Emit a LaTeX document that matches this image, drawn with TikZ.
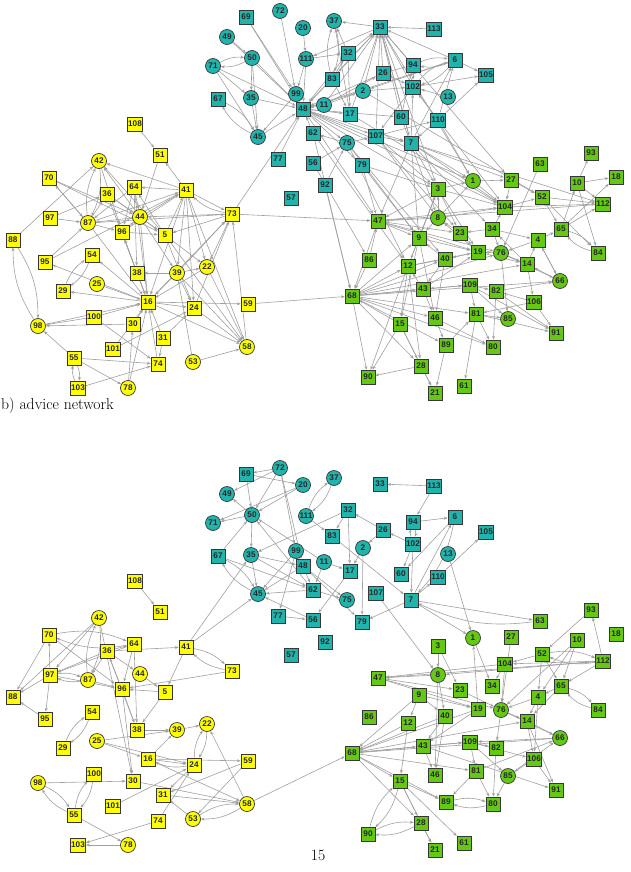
\documentclass[tikz,border=0pt]{standalone}
\usepackage{fontspec}
\newfontfamily\labfont{Liberation Sans}
\usetikzlibrary{arrows.meta}
\pgfdeclarelayer{back}
\pgfdeclarelayer{bg}
\pgfsetlayers{back,bg,main}
\definecolor{nyellow}{RGB}{255,255,0}
\definecolor{nteal}{RGB}{32,180,172}
\definecolor{ngreen}{RGB}{100,200,20}
\definecolor{nedge}{RGB}{160,160,160}
\definecolor{nborder}{RGB}{55,55,55}
\tikzset{
  nbase/.style={draw=nborder, line width=0.7pt, text=black!85, font=\labfont\bfseries\fontsize{8.2}{9}\selectfont},
  sqn/.style={nbase, rectangle, minimum size=14pt, inner sep=0.8pt},
  crn/.style={nbase, circle, minimum size=15pt, inner sep=0pt},
  ysq/.style={sqn, fill=nyellow}, ycr/.style={crn, fill=nyellow},
  tsq/.style={sqn, fill=nteal},   tcr/.style={crn, fill=nteal},
  gsq/.style={sqn, fill=ngreen},  gcr/.style={crn, fill=ngreen},
  edge/.style={draw=nedge, line width=0.6pt, -{Stealth[length=3.8pt,width=3pt]}},
  capt/.style={inner sep=0pt, font=\fontsize{15.7}{18}\selectfont},
}
\begin{document}
\begin{tikzpicture}[x=1pt,y=-1pt]
\useasboundingbox (0,0) rectangle (630,872);
\begin{pgfonlayer}{back}
\fill[white] (0,0) rectangle (630,872);
\end{pgfonlayer}
% ---------- nodes (top = a, bottom = b, bottom shifted by 457) ----------
\foreach \n/\x/\y in {108/135/124, 51/160/155, 70/49/178, 36/107/194, 64/134/187, 41/186/190, 97/50/218, 96/122/232, 5/165/235, 73/232/214, 88/13/240, 95/45/262, 54/92/255, 38/137/273, 29/63/291, 16/148/302, 24/194/308, 59/248/304, 100/94/317, 30/133/324, 31/163/338, 101/113/349, 55/74/358, 74/158/364, 103/78/388}
  {\node[ysq] (a\n) at (\x,\y) {\n}; \node[ysq] (b\n) at (\x,\y+457) {\n};}
\foreach \n/\x/\y in {42/99/161, 87/88/223, 44/140/217, 39/177/273, 22/207/267, 25/97/284, 98/38/326, 58/247/347, 53/193/362, 78/128/388}
  {\node[ycr] (a\n) at (\x,\y) {\n}; \node[ycr] (b\n) at (\x,\y+457) {\n};}
\foreach \n/\x/\y in {69/246/17, 33/380/27, 113/434/29, 32/348/53, 94/413/65, 26/383/73, 83/332/79, 102/413/87, 6/455/60, 105/486/75, 67/218/99, 48/303/109, 17/350/114, 60/401/117, 110/438/120, 62/313/133, 107/376/136, 7/411/143, 77/278/159, 56/313/163, 79/362/165, 92/325/185, 57/291/198}
  {\node[tsq] (a\n) at (\x,\y) {\n}; \node[tsq] (b\n) at (\x,\y+457) {\n};}
\foreach \n/\x/\y in {72/280/11, 37/334/21, 20/303/28, 49/227/37, 50/252/58, 111/306/59, 71/213/66, 2/363/91, 99/296/94, 35/251/98, 11/324/105, 45/258/137, 75/347/143, 13/448/97}
  {\node[tcr] (a\n) at (\x,\y) {\n}; \node[tcr] (b\n) at (\x,\y+457) {\n};}
\foreach \n/\x/\y in {63/540/164, 93/591/153, 18/616/177, 27/511/180, 10/577/183, 3/438/189, 52/542/197, 112/603/204, 104/505/207, 47/378/221, 23/460/233, 34/492/229, 65/561/229, 9/419/238, 4/538/240, 19/478/252, 84/598/253, 86/369/260, 40/445/259, 12/408/266, 14/527/264, 68/352/296, 43/423/289, 109/470/285, 82/496/291, 106/534/302, 81/476/314, 46/435/318, 15/400/324, 91/556/333, 89/446/345, 80/493/347, 28/421/366, 90/368/377, 61/464/386, 21/435/393}
  {\node[gsq] (a\n) at (\x,\y) {\n}; \node[gsq] (b\n) at (\x,\y+457) {\n};}
\foreach \n/\x/\y in {1/473/181, 8/438/218, 76/501/253, 66/560/281, 85/508/319}
  {\node[gcr] (a\n) at (\x,\y) {\n}; \node[gcr] (b\n) at (\x,\y+457) {\n};}
% ---------- texts ----------
\node[capt, anchor=base west] (caption) at (1,409) {b) advice network};
\node[capt] (pagenum) at (318,855) {15};
% ---------- edges ----------
\begin{pgfonlayer}{bg}
% top network: straight
\foreach \p/\q in {108/51, 41/51, 51/44, 41/42, 5/42, 44/42, 88/42, 70/44, 70/5, 87/70, 97/36, 36/44, 36/5, 87/36, 64/87, 64/44, 64/96, 41/64, 5/64, 87/41, 44/41, 5/41, 96/41, 41/73, 73/44, 73/5, 87/73, 16/73, 39/73, 24/73, 58/73, 73/48, 73/47, 87/96, 44/87, 97/87, 95/87, 87/16, 44/5, 96/44, 96/5, 16/96, 38/96, 95/41, 25/16, 16/29, 98/16, 100/16, 30/16, 31/16, 74/16, 16/24, 16/59, 16/58, 39/16, 22/16, 38/16, 101/16, 78/16, 16/95, 16/54, 39/38, 39/24, 39/58, 39/22, 41/39, 41/22, 41/24, 24/58, 101/24, 31/24, 59/68, 100/98, 100/74, 30/98, 31/74, 53/58, 53/39, 55/98, 55/74, 55/78, 103/74, 78/30, 5/22, 5/24, 44/39, 64/16, 36/16, 41/16, 42/96, 70/87, 22/58, 41/58, 5/58, 64/38, 44/16, 73/22}
  {\draw[edge] (a\p) -- (a\q);}
\foreach \p/\q in {69/99, 69/48, 72/99, 49/50, 49/48, 50/35, 50/45, 50/48, 71/35, 71/45, 71/48, 20/111, 33/37, 32/37, 17/37, 113/33, 32/33, 48/33, 11/33, 2/33, 26/33, 17/33, 107/33, 102/33, 6/33, 60/33, 7/33, 94/33, 33/111, 111/32, 32/48, 32/17, 111/99, 111/48, 99/48, 99/45, 83/48, 83/32, 26/48, 26/94, 11/26, 2/48, 2/102, 102/105, 7/102, 110/102, 6/105, 7/6, 110/6, 13/102, 110/7, 110/105, 107/110, 35/45, 35/48, 45/48, 62/48, 48/107, 48/75, 77/48, 48/7, 48/79, 48/17, 11/48, 107/7, 75/62, 56/75, 92/75, 33/83, 83/17, 102/107, 6/2, 94/102, 33/7, 6/48, 11/2, 26/102, 60/94, 48/60, 75/107}
  {\draw[edge] (a\p) -- (a\q);}
\foreach \p/\q in {7/1, 7/3, 7/47, 7/27, 7/9, 107/8, 107/3, 79/3, 75/9, 48/3, 48/1, 48/47, 62/12, 56/86, 33/1, 33/27, 7/112, 107/23, 2/52, 17/104, 79/47, 75/40, 48/104, 33/3, 7/104, 92/68, 110/1, 102/104, 60/8, 79/9, 62/68, 75/12, 7/34}
  {\draw[edge] (a\p) -- (a\q);}
\foreach \p/\q in {1/27, 1/104, 3/1, 8/1, 27/104, 27/52, 63/76, 10/93, 10/18, 65/10, 10/84, 3/47, 9/3, 8/3, 3/23, 3/104, 12/3, 52/65, 52/112, 104/52, 52/84, 65/112, 112/47, 104/112, 47/104, 34/104, 8/104, 8/47, 23/8, 8/9, 19/8, 47/9, 47/23, 86/47, 47/68, 47/19, 47/76, 34/76, 34/23, 14/34, 4/65, 9/12, 9/19, 40/9, 68/9, 9/15, 9/46, 4/76, 14/4, 66/4, 76/19, 19/40, 12/19, 76/14, 76/66, 86/68, 40/46, 40/43, 68/40, 12/15, 43/12, 68/12, 12/28, 12/90, 66/14, 14/106, 68/66, 82/66, 68/43, 68/109, 68/81, 68/46, 15/68, 68/89, 68/80, 43/46, 109/43, 109/81, 109/82, 109/91, 109/85, 82/80, 82/91, 106/91, 106/81, 81/85, 89/81, 81/80, 81/61, 81/91, 46/80, 46/89, 15/28, 15/90, 15/21, 28/90, 28/21, 89/21, 106/82, 68/14, 68/76, 12/40, 43/19, 23/19, 3/19, 19/14, 34/4, 4/66, 76/85, 68/90, 68/28, 10/112, 65/18, 3/9}
  {\draw[edge] (a\p) -- (a\q);}
% top network: reciprocal (bent)
\foreach \p/\q in {88/98, 98/88, 54/29, 29/54, 55/103, 103/55, 42/87, 87/42, 73/41, 37/83, 83/37, 50/71, 71/50, 94/6, 6/94, 67/45, 45/67, 102/6, 6/102, 65/84, 84/65}
  {\draw[edge] (a\p) to[bend left=16] (a\q);}
% bottom network: straight
\foreach \p/\q in {108/51, 42/97, 42/88, 42/30, 70/96, 70/88, 97/70, 36/64, 36/41, 36/97, 36/87, 36/44, 96/36, 64/96, 64/97, 41/5, 41/45, 41/35, 73/96, 97/96, 97/88, 95/88, 97/95, 87/96, 44/5, 5/96, 96/38, 96/30, 5/38, 38/39, 25/39, 39/22, 16/39, 25/16, 25/24, 16/24, 16/59, 16/58, 58/22, 24/31, 101/24, 74/24, 59/31, 59/53, 98/30, 53/31, 31/58, 30/58, 55/78, 74/103, 78/103, 58/68, 36/38, 64/38}
  {\draw[edge] (b\p) -- (b\q);}
\foreach \p/\q in {72/69, 72/49, 72/50, 72/99, 72/48, 20/50, 20/71, 69/20, 113/33, 113/94, 111/83, 32/83, 32/35, 32/17, 26/32, 69/50, 50/49, 50/71, 50/35, 67/50, 62/50, 11/50, 94/6, 26/2, 102/26, 102/60, 102/7, 6/60, 7/6, 110/105, 13/1, 67/62, 35/45, 35/48, 35/62, 99/48, 99/45, 99/77, 48/45, 62/45, 48/75, 48/79, 11/17, 11/62, 17/56, 56/45, 77/56, 62/75, 7/110, 7/79, 83/7, 2/17, 2/79, 48/62, 7/63, 7/1, 107/8}
  {\draw[edge] (b\p) -- (b\q);}
\foreach \p/\q in {93/52, 112/93, 1/34, 19/1, 27/76, 10/65, 10/4, 10/76, 3/8, 3/23, 52/104, 52/65, 52/4, 112/104, 112/47, 112/65, 112/8, 104/47, 104/34, 104/76, 8/47, 8/46, 8/40, 47/19, 47/76, 47/23, 23/76, 65/4, 65/14, 9/68, 9/12, 9/19, 9/40, 4/76, 4/14, 4/106, 19/68, 19/43, 76/14, 76/66, 76/82, 40/68, 40/43, 40/46, 12/68, 12/15, 14/66, 14/106, 14/91, 66/109, 66/68, 68/43, 68/109, 68/81, 68/15, 68/89, 68/28, 68/14, 43/46, 43/109, 43/91, 109/82, 109/81, 109/85, 109/106, 82/80, 106/91, 106/85, 81/89, 81/80, 85/80, 15/28, 15/21, 15/61, 15/89, 28/21, 81/66, 85/66}
  {\draw[edge] (b\p) -- (b\q);}
% bottom network: reciprocal (bent)
\foreach \p/\q in {42/87, 87/42, 64/70, 70/64, 41/73, 73/41, 97/87, 87/97, 54/29, 29/54, 24/22, 22/24, 98/55, 55/98, 100/55, 55/100, 53/58, 58/53, 24/16, 37/111, 111/37, 94/102, 102/94, 67/45, 45/67, 6/7, 63/7, 52/112, 112/52, 65/84, 84/65, 89/80, 80/89, 15/90, 90/15, 28/90, 90/28}
  {\draw[edge] (b\p) to[bend left=16] (b\q);}
\end{pgfonlayer}
\end{tikzpicture}
\end{document}
